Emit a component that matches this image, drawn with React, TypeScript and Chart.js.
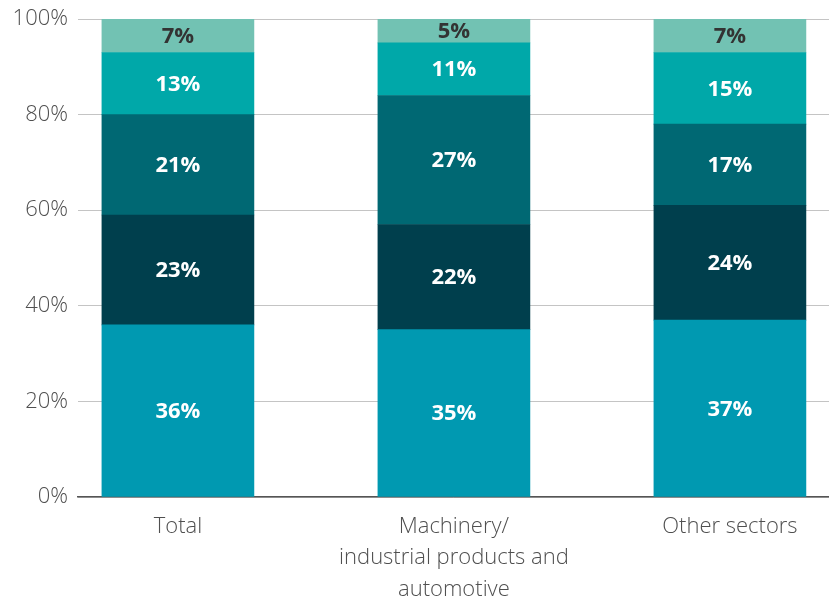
import React, { useEffect, useRef } from "react";
import { Chart, registerables } from "chart.js";

Chart.register(...registerables);

const categories: (string | string[])[] = [
  "Total",
  ["Machinery/", "industrial products and", "automotive"],
  "Other sectors",
];
const seriesA = [36, 35, 37];
const seriesB = [23, 22, 24];
const seriesC = [21, 27, 17];
const seriesD = [13, 11, 15];
const seriesE = [7, 5, 7];
const yTicks = [0, 20, 40, 60, 80, 100];

const colors = ["#0099b1", "#003f4d", "#006873", "#00a8a9", "#72c2b3"];
const labelColors = ["#ffffff", "#ffffff", "#ffffff", "#ffffff", "#333333"];

const FONT = "'Open Sans', 'Noto Sans', sans-serif";

const labelPlugin = {
  id: "segLabels",
  afterDatasetsDraw(chart: any) {
    const ctx = chart.ctx;
    ctx.save();
    ctx.font = `bold 22px ${FONT}`;
    ctx.textAlign = "center";
    ctx.textBaseline = "middle";
    chart.data.datasets.forEach((ds: any, di: number) => {
      const meta = chart.getDatasetMeta(di);
      meta.data.forEach((el: any, i: number) => {
        const p = el.getCenterPoint();
        ctx.fillStyle = labelColors[di];
        ctx.fillText(`${ds.data[i].y}%`, p.x, p.y + 1);
      });
    });
    ctx.restore();
  },
};

export default function App() {
  const ref = useRef<HTMLCanvasElement>(null);
  useEffect(() => {
    if (!ref.current) return;
    const series = [seriesA, seriesB, seriesC, seriesD, seriesE];
    const chart = new Chart(ref.current, {
      type: "bar",
      data: {
        datasets: series.map((s, si) => ({
          label: `s${si}`,
          data: s.map((v, i) => ({ x: i, y: v })),
          backgroundColor: colors[si],
          borderWidth: 0,
          barThickness: 152,
        })),
      },
      options: {
        responsive: false,
        animation: false,
        layout: { padding: { top: 19, left: 0, right: 0, bottom: 0 } },
        plugins: { legend: { display: false }, tooltip: { enabled: false } },
        scales: {
          x: {
            type: "linear",
            stacked: true,
            offset: false,
            bounds: "data",
            min: -0.362,
            max: 2.359,
            afterBuildTicks: (axis: any) => {
              axis.ticks = categories.map((_, i) => ({ value: i }));
            },
            afterFit: (scale: any) => {
              scale.height = 107;
            },
            grid: { display: false, drawTicks: false, offset: false },
            border: { display: true, color: "#555555", width: 1.5 },
            ticks: {
              padding: 14,
              maxRotation: 0,
              autoSkip: false,
              color: "#4f4f4f",
              font: { family: FONT, size: 22, weight: "300", lineHeight: 1.43 },
              callback: (v: any) => categories[v as number],
            },
          },
          y: {
            stacked: true,
            min: 0,
            max: 100,
            afterBuildTicks: (axis: any) => {
              axis.ticks = yTicks.map((v) => ({ value: v }));
            },
            afterFit: (scale: any) => {
              scale.width = 78;
              scale.paddingTop = 0;
              scale.paddingBottom = 0;
            },
            grid: { color: "#c4c4c4", lineWidth: 1, drawTicks: false },
            border: { display: false },
            ticks: {
              padding: 10,
              color: "#4f4f4f",
              font: { family: FONT, size: 22, weight: "300", lineHeight: 1 },
              callback: (v: any) => `${v}%`,
            },
          },
        },
      },
      plugins: [labelPlugin],
    });
    return () => chart.destroy();
  }, []);
  return (
    <div style={{ position: "absolute", left: 0, top: 0, width: 829, height: 604 }}>
      <canvas ref={ref} width={829} height={604} style={{ display: "block" }} />
    </div>
  );
}
